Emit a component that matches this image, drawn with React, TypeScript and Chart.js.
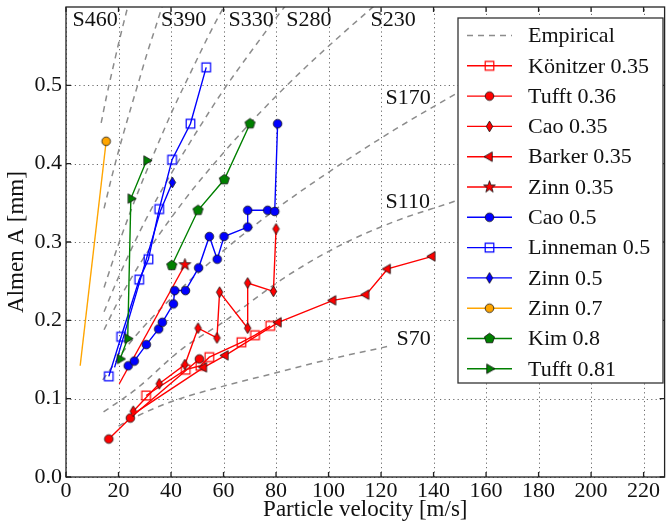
import React, { useEffect, useRef } from 'react';
import { Chart, registerables } from 'chart.js';

Chart.register(...registerables);

// ---------- tick values ----------
const X_TICKS = [0, 20, 40, 60, 80, 100, 120, 140, 160, 180, 200, 220];
const Y_TICKS = [0.0, 0.1, 0.2, 0.3, 0.4, 0.5];

// ---------- empirical curves (velocity m/s, Almen mm) ----------
const S460_V = [13.4, 15.5, 18, 20.5, 23.5, 25.5];
const S460_A = [0.452, 0.487, 0.524, 0.56, 0.6, 0.625];
const S390_V = [14.5, 17.8, 21, 24.7, 27.9, 31, 34, 37.5];
const S390_A = [0.343, 0.388, 0.428, 0.471, 0.507, 0.542, 0.573, 0.61];
const S330_V = [14.5, 20, 27, 34, 41, 48, 55, 62];
const S330_A = [0.242, 0.297, 0.36, 0.417, 0.471, 0.52, 0.568, 0.612];
const S280_V = [14.5, 20, 30, 40, 50, 60, 70, 80, 86];
const S280_A = [0.211, 0.255, 0.326, 0.387, 0.442, 0.494, 0.541, 0.586, 0.612];
const S230_V = [14.5, 20, 30, 45, 60, 75, 90, 105, 120];
const S230_A = [0.188, 0.225, 0.282, 0.353, 0.414, 0.469, 0.519, 0.565, 0.609];
const S170_V = [14, 25, 40, 60, 80, 100, 125, 150, 175];
const S170_A = [0.124, 0.174, 0.228, 0.289, 0.342, 0.389, 0.443, 0.492, 0.538];
const S110_V = [14.3, 27, 44, 60, 83, 104, 125, 148, 175];
const S110_A = [0.083, 0.113, 0.163, 0.198, 0.254, 0.295, 0.326, 0.352, 0.385];
const S70_V = [20, 26, 40, 60, 80, 100, 123];
const S70_A = [0.065, 0.076, 0.096, 0.116, 0.133, 0.15, 0.167];

// curve labels: text, anchor velocity, anchor Almen
const CURVE_LABELS = ['S460', 'S390', 'S330', 'S280', 'S230', 'S170', 'S110', 'S70'];
const CURVE_LABEL_V = [2.5, 36.2, 61.9, 83.9, 116.0, 121.7, 121.7, 125.9];
const CURVE_LABEL_A = [0.583, 0.583, 0.583, 0.583, 0.583, 0.484, 0.351, 0.176];

// ---------- measured series ----------
const KONITZER_V = [30.5, 45.6, 51.2, 54.6, 66.8, 72.0, 77.8];
const KONITZER_A = [0.104, 0.137, 0.142, 0.153, 0.172, 0.181, 0.193];
const TUFFT036_V = [16.3, 24.5, 50.8];
const TUFFT036_A = [0.0485, 0.0753, 0.1507];
const CAO035_V = [25.6, 35.5, 45.3, 50.3, 57.5, 58.5, 69.2, 69.2, 79.0, 80.0];
const CAO035_A = [0.084, 0.119, 0.1435, 0.19, 0.1775, 0.236, 0.19, 0.2477, 0.237, 0.3167];
const BARKER_V = [25.0, 52.5, 60.7, 80.9, 101.7, 114.3, 122.5, 139.5];
const BARKER_A = [0.079, 0.14, 0.1553, 0.1975, 0.2255, 0.2328, 0.2656, 0.2817];
const ZINN035_V = [20.3, 45.3];
const ZINN035_A = [0.119, 0.271];
const CAO05_V = [23.7, 26.0, 30.6, 35.3, 36.7, 40.9, 41.4, 45.5, 50.5, 54.6, 57.6, 60.2, 69.2, 69.2, 76.8, 79.5, 80.6];
const CAO05_A = [0.142, 0.148, 0.169, 0.189, 0.1975, 0.221, 0.238, 0.238, 0.267, 0.307, 0.278, 0.307, 0.319, 0.3405, 0.3405, 0.339, 0.451];
const LINNEMAN_V = [16.3, 21.0, 27.9, 31.4, 35.5, 40.4, 47.4, 53.4];
const LINNEMAN_A = [0.1285, 0.179, 0.252, 0.278, 0.342, 0.405, 0.451, 0.523];
const ZINN05_V = [18.5, 36.0, 40.5];
const ZINN05_A = [0.14, 0.34, 0.376];
const ZINN07_V = [5.4, 15.3];
const ZINN07_A = [0.142, 0.4286];
const KIM_V = [40.3, 50.3, 60.3, 70.1];
const KIM_A = [0.27, 0.3405, 0.3797, 0.451];
const TUFFT081_V = [20.6, 23.5, 24.7, 30.7];
const TUFFT081_A = [0.1507, 0.1766, 0.3554, 0.404];

const FONT = "'Liberation Serif', 'DejaVu Serif', serif";
const RED = '#ff0000';
const BLUE = '#0000ff';
const GREEN = '#008000';
const ORANGE = '#ffa500';
const GRAY = '#8c8c8c';

function zip(v: number[], a: number[]) {
  return v.map((x, i) => ({ x, y: a[i] }));
}

function makeMarker(kind: string, fill: string, edge: string, r: number, lw: number): HTMLCanvasElement {
  const size = Math.ceil(r * 2 + 4);
  const c = document.createElement('canvas');
  c.width = size;
  c.height = size;
  const g = c.getContext('2d')!;
  g.translate(size / 2, size / 2);
  g.beginPath();
  if (kind === 'circle') {
    g.arc(0, 0, r, 0, Math.PI * 2);
  } else if (kind === 'square') {
    g.rect(-r, -r, 2 * r, 2 * r);
  } else if (kind === 'diamond') {
    g.moveTo(0, -r);
    g.lineTo(r * 0.6, 0);
    g.lineTo(0, r);
    g.lineTo(-r * 0.6, 0);
    g.closePath();
  } else if (kind === 'pentagon') {
    for (let k = 0; k < 5; k++) {
      const ang = -Math.PI / 2 + (k * 2 * Math.PI) / 5;
      const px = r * Math.cos(ang);
      const py = r * Math.sin(ang);
      if (k === 0) g.moveTo(px, py);
      else g.lineTo(px, py);
    }
    g.closePath();
  } else if (kind === 'star') {
    for (let k = 0; k < 10; k++) {
      const ang = -Math.PI / 2 + (k * Math.PI) / 5;
      const rr = k % 2 === 0 ? r : r * 0.4;
      const px = rr * Math.cos(ang);
      const py = rr * Math.sin(ang);
      if (k === 0) g.moveTo(px, py);
      else g.lineTo(px, py);
    }
    g.closePath();
  } else if (kind === 'triLeft') {
    g.moveTo(-r, 0);
    g.lineTo(r * 0.5, -r * 0.866);
    g.lineTo(r * 0.5, r * 0.866);
    g.closePath();
  } else if (kind === 'triRight') {
    g.moveTo(r, 0);
    g.lineTo(-r * 0.5, -r * 0.866);
    g.lineTo(-r * 0.5, r * 0.866);
    g.closePath();
  }
  if (fill !== 'none') {
    g.fillStyle = fill;
    g.fill();
  }
  g.lineWidth = lw;
  g.strokeStyle = edge;
  g.stroke();
  return c;
}

export default function App() {
  const ref = useRef<HTMLCanvasElement>(null);

  useEffect(() => {
    const canvas = ref.current;
    if (!canvas) return;

    const EDGE = '#111';
    const mk = {
      redSquare: makeMarker('square', 'none', RED, 4.3, 1.2),
      redCircle: makeMarker('circle', RED, EDGE, 4.3, 0.8),
      redDiamond: makeMarker('diamond', RED, EDGE, 5.4, 0.8),
      redTriLeft: makeMarker('triLeft', RED, EDGE, 5.5, 0.8),
      redStar: makeMarker('star', RED, EDGE, 6.2, 0.8),
      blueCircle: makeMarker('circle', BLUE, EDGE, 4.3, 0.8),
      blueSquare: makeMarker('square', 'none', BLUE, 4.3, 1.2),
      blueDiamond: makeMarker('diamond', BLUE, EDGE, 5.4, 0.8),
      orangeCircle: makeMarker('circle', ORANGE, EDGE, 4.3, 0.8),
      greenPentagon: makeMarker('pentagon', GREEN, EDGE, 5.3, 0.8),
      greenTriRight: makeMarker('triRight', GREEN, EDGE, 5.5, 0.8),
    };

    const empirical = [
      [S460_V, S460_A], [S390_V, S390_A], [S330_V, S330_A], [S280_V, S280_A],
      [S230_V, S230_A], [S170_V, S170_A], [S110_V, S110_A], [S70_V, S70_A],
    ];

    const series = [
      { label: 'Könitzer 0.35', v: KONITZER_V, a: KONITZER_A, color: RED, marker: mk.redSquare, hideFirst: false },
      { label: 'Tufft 0.36', v: TUFFT036_V, a: TUFFT036_A, color: RED, marker: mk.redCircle, hideFirst: false },
      { label: 'Cao 0.35', v: CAO035_V, a: CAO035_A, color: RED, marker: mk.redDiamond, hideFirst: false },
      { label: 'Barker 0.35', v: BARKER_V, a: BARKER_A, color: RED, marker: mk.redTriLeft, hideFirst: true },
      { label: 'Zinn 0.35', v: ZINN035_V, a: ZINN035_A, color: RED, marker: mk.redStar, hideFirst: true },
      { label: 'Cao 0.5', v: CAO05_V, a: CAO05_A, color: BLUE, marker: mk.blueCircle, hideFirst: false },
      { label: 'Linneman 0.5', v: LINNEMAN_V, a: LINNEMAN_A, color: BLUE, marker: mk.blueSquare, hideFirst: false },
      { label: 'Zinn 0.5', v: ZINN05_V, a: ZINN05_A, color: BLUE, marker: mk.blueDiamond, hideFirst: true, hideAllButLast: true },
      { label: 'Zinn 0.7', v: ZINN07_V, a: ZINN07_A, color: ORANGE, marker: mk.orangeCircle, hideFirst: true },
      { label: 'Kim 0.8', v: KIM_V, a: KIM_A, color: GREEN, marker: mk.greenPentagon, hideFirst: false },
      { label: 'Tufft 0.81', v: TUFFT081_V, a: TUFFT081_A, color: GREEN, marker: mk.greenTriRight, hideFirst: false },
    ];

    const N = series.length;
    const datasets: any[] = [];
    empirical.forEach(([v, a], i) => {
      datasets.push({
        label: 'Empirical',
        data: zip(v, a),
        borderColor: GRAY,
        borderWidth: 1.5,
        borderDash: [6, 5],
        pointRadius: 0,
        fill: false,
        cubicInterpolationMode: 'monotone',
        clip: 0,
        order: 100 + i,
      });
    });
    series.forEach((s: any, i) => {
      datasets.push({
        label: s.label,
        data: zip(s.v, s.a),
        borderColor: s.color,
        borderWidth: 1.4,
        fill: false,
        tension: 0,
        pointStyle: s.marker,
        pointRadius: s.v.map((_: number, j: number) =>
          s.hideAllButLast ? (j === s.v.length - 1 ? 5 : 0) : s.hideFirst && j === 0 ? 0 : 5),
        order: N - i,
      });
    });

    const gridPlugin = {
      id: 'dottedGrid',
      beforeDatasetsDraw(chart: any) {
        const { ctx, chartArea, scales } = chart;
        const { left, right, top, bottom } = chartArea;
        ctx.save();
        ctx.strokeStyle = '#6a6a6a';
        ctx.lineWidth = 1;
        ctx.setLineDash([1.2, 3.2]);
        ctx.beginPath();
        X_TICKS.forEach((v) => {
          const px = Math.round(scales.x.getPixelForValue(v)) + 0.5;
          ctx.moveTo(px, bottom);
          ctx.lineTo(px, top);
        });
        Y_TICKS.forEach((v) => {
          const py = Math.round(scales.y.getPixelForValue(v)) + 0.5;
          ctx.moveTo(left, py);
          ctx.lineTo(right, py);
        });
        ctx.stroke();
        ctx.restore();
      },
    };

    const framePlugin = {
      id: 'frame',
      afterDatasetsDraw(chart: any) {
        const { ctx, chartArea, scales } = chart;
        const { left, right, top, bottom } = chartArea;
        ctx.save();
        ctx.strokeStyle = '#222';
        ctx.lineWidth = 1.3;
        ctx.beginPath();
        X_TICKS.forEach((v) => {
          const px = scales.x.getPixelForValue(v);
          ctx.moveTo(px, bottom);
          ctx.lineTo(px, bottom - 5);
          ctx.moveTo(px, top);
          ctx.lineTo(px, top + 5);
        });
        Y_TICKS.forEach((v) => {
          const py = scales.y.getPixelForValue(v);
          ctx.moveTo(left, py);
          ctx.lineTo(left + 5, py);
          ctx.moveTo(right, py);
          ctx.lineTo(right - 5, py);
        });
        ctx.stroke();
        ctx.strokeRect(left, top, right - left, bottom - top);
        // curve labels
        ctx.fillStyle = '#111';
        ctx.font = `22px ${FONT}`;
        ctx.textAlign = 'left';
        ctx.textBaseline = 'middle';
        CURVE_LABELS.forEach((t, i) => {
          ctx.fillText(t, scales.x.getPixelForValue(CURVE_LABEL_V[i]), scales.y.getPixelForValue(CURVE_LABEL_A[i]));
        });
        ctx.restore();
      },
    };

    const legendPlugin = {
      id: 'customLegend',
      afterDraw(chart: any) {
        const { ctx } = chart;
        const bx = 458, by = 18, bw = 205, bh = 365;
        const lineX0 = 467, lineX1 = 512, markX = 489.5, textX = 528;
        const rowY0 = 35.5, rowH = 30.3;
        ctx.save();
        ctx.fillStyle = '#ffffff';
        ctx.fillRect(bx, by, bw, bh);
        ctx.strokeStyle = '#333';
        ctx.lineWidth = 1.3;
        ctx.strokeRect(bx, by, bw, bh);
        ctx.font = `22px ${FONT}`;
        ctx.textBaseline = 'middle';
        ctx.textAlign = 'left';
        const items: any[] = [{ label: 'Empirical', color: GRAY, dash: [6, 5], marker: null, lw: 1.5 }];
        series.forEach((s) => items.push({ label: s.label, color: s.color, dash: [], marker: s.marker, lw: 1.4 }));
        items.forEach((it, i) => {
          const y = rowY0 + i * rowH;
          ctx.save();
          ctx.strokeStyle = it.color;
          ctx.lineWidth = it.lw;
          ctx.setLineDash(it.dash);
          ctx.beginPath();
          ctx.moveTo(lineX0, y);
          ctx.lineTo(lineX1, y);
          ctx.stroke();
          ctx.restore();
          if (it.marker) {
            ctx.drawImage(it.marker, markX - it.marker.width / 2, y - it.marker.height / 2);
          }
          ctx.fillStyle = '#111';
          ctx.fillText(it.label, textX, y + 1);
        });
        ctx.restore();
      },
    };

    const chart = new Chart(canvas, {
      type: 'line',
      data: { datasets },
      plugins: [gridPlugin, framePlugin, legendPlugin],
      options: {
        animation: false,
        responsive: false,
        events: [],
        layout: { padding: { top: 7, right: 1, left: 0, bottom: 0 } },
        plugins: { legend: { display: false }, tooltip: { enabled: false } },
        scales: {
          x: {
            type: 'linear',
            min: 0,
            max: 228,
            afterBuildTicks: (s: any) => {
              s.ticks = X_TICKS.map((v) => ({ value: v }));
            },
            afterFit: (s: any) => {
              s.height = 51;
              s.paddingLeft = 0;
              s.paddingRight = 0;
            },
            grid: { display: false, drawTicks: false },
            border: { display: false },
            ticks: {
              font: { family: FONT, size: 22 },
              color: '#111',
              padding: 1,
              maxRotation: 0,
              autoSkip: false,
              callback: (v: any) => String(v),
            },
            title: {
              display: true,
              text: 'Particle velocity [m/s]',
              font: { family: FONT, size: 23 },
              color: '#111',
              padding: { top: 0, bottom: 4 },
            },
          },
          y: {
            type: 'linear',
            min: 0,
            max: 0.6,
            afterBuildTicks: (s: any) => {
              s.ticks = Y_TICKS.map((v) => ({ value: v }));
            },
            afterFit: (s: any) => {
              s.width = 66;
              s.paddingTop = 0;
              s.paddingBottom = 0;
            },
            grid: { display: false, drawTicks: false },
            border: { display: false },
            ticks: {
              font: { family: FONT, size: 22 },
              color: '#111',
              padding: 4,
              autoSkip: false,
              callback: (v: any) => Number(v).toFixed(1),
            },
            title: {
              display: true,
              text: 'Almen A [mm]',
              font: { family: FONT, size: 23 },
              color: '#111',
              padding: { top: 3, bottom: 0 },
            },
          },
        },
      } as any,
    });

    return () => chart.destroy();
  }, []);

  return (
    <div style={{ position: 'fixed', left: 0, top: 0, width: 671, height: 528, background: '#fff' }}>
      <canvas ref={ref} width={671} height={528} style={{ display: 'block' }} />
    </div>
  );
}
